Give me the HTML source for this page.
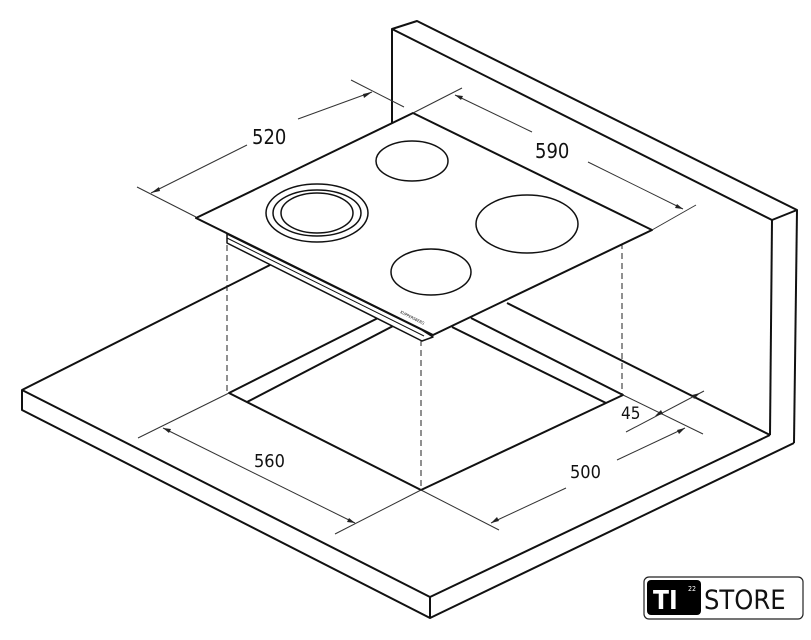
<!DOCTYPE html>
<html><head><meta charset="utf-8"><style>
html,body{margin:0;padding:0;background:#fff;width:811px;height:640px;overflow:hidden}
svg{display:block}
text{font-family:"DejaVu Sans Condensed","Liberation Sans",sans-serif;fill:#111}
</style></head><body>
<svg width="811" height="640" viewBox="0 0 811 640" xmlns="http://www.w3.org/2000/svg">
<g fill="none" stroke="#111" stroke-width="2" stroke-linejoin="round">
<polygon points="392,29 417,21 797,210 772,220" fill="#fff"/>
<line x1="392" y1="29" x2="392" y2="125"/>
<line x1="772" y1="220" x2="770" y2="435"/>
<line x1="797" y1="210" x2="794" y2="443"/>
<polyline points="270,265 22,390 22,410 430,618 794,443"/>
<polyline points="22,390 430,597 770,435"/>
<line x1="430" y1="597" x2="430" y2="618"/>
<line x1="507" y1="303" x2="770" y2="435"/>
<polyline points="380,317 229,393 421,490 623,395 471,318"/>
<line x1="247" y1="402" x2="395" y2="325"/>
<line x1="606" y1="403" x2="452" y2="327"/>
</g>
<g stroke="#222" stroke-width="1" stroke-dasharray="6,4">
<line x1="227" y1="245" x2="227" y2="393"/>
<line x1="622" y1="243" x2="622" y2="395"/>
<line x1="421" y1="340" x2="421" y2="490"/>
</g>
<g fill="none" stroke="#111" stroke-width="2" stroke-linejoin="round">
<polygon points="227,234 422,330 433,337 422,341 227,243" fill="#fff" stroke-width="1.5"/>
<line x1="227" y1="238" x2="424" y2="336" stroke-width="1"/>
<polygon points="196,218 413,113 652,230 433,335" fill="#fff"/>
<ellipse cx="412" cy="161" rx="36" ry="20" stroke-width="1.5"/>
<ellipse cx="317" cy="213" rx="51" ry="29" stroke-width="1.5"/>
<ellipse cx="317" cy="213" rx="44" ry="23" stroke-width="1.5"/>
<ellipse cx="317" cy="213" rx="36" ry="20" stroke-width="1.5"/>
<ellipse cx="527" cy="224" rx="51" ry="29" stroke-width="1.5"/>
<ellipse cx="431" cy="272" rx="40" ry="23" stroke-width="1.5"/>
</g>
<text x="0" y="0" font-size="4" transform="translate(400,313) rotate(27)">KUPPERSBERG</text>
<g stroke="#333" stroke-width="1" fill="none">
<line x1="137" y1="187" x2="196" y2="217"/>
<line x1="351" y1="80" x2="404" y2="107"/>
<line x1="151" y1="193" x2="247" y2="145"/>
<line x1="298" y1="119" x2="372" y2="92"/>
<line x1="462" y1="88" x2="413" y2="113"/>
<line x1="696" y1="205" x2="652" y2="230"/>
<line x1="455" y1="95" x2="532" y2="132"/>
<line x1="588" y1="162" x2="683" y2="209"/>
<line x1="138" y1="438" x2="229" y2="393"/>
<line x1="335" y1="534" x2="421" y2="490"/>
<line x1="163" y1="428" x2="355" y2="523"/>
<line x1="421" y1="490" x2="499" y2="530"/>
<line x1="623" y1="395" x2="703" y2="434"/>
<line x1="491" y1="523" x2="566" y2="488"/>
<line x1="617" y1="460" x2="685" y2="428"/>
<line x1="626" y1="432" x2="704" y2="391"/>
</g>
<g fill="#222">
<polygon points="151,193 159,187 160,191"/>
<polygon points="372,92 364,98 363,94"/>
<polygon points="455,95 463,96 461,100"/>
<polygon points="683,209 675,208 677,204"/>
<polygon points="163,428 171,429 169,433"/>
<polygon points="355,523 347,522 349,518"/>
<polygon points="491,523 497,517 499,521"/>
<polygon points="685,428 679,434 677,430"/>
<polygon points="655,416 661,410 663,414"/>
<polygon points="700,393 694,399 692,395"/>
</g>
<text x="252" y="144" font-size="20">520</text>
<text x="535" y="158" font-size="20">590</text>
<text x="254" y="467" font-size="18">560</text>
<text x="570" y="478" font-size="18">500</text>
<text x="621" y="419" font-size="17">45</text>
<rect x="644" y="577" width="159" height="42" rx="5" fill="#fff" stroke="#222" stroke-width="1.2"/>
<rect x="647" y="580" width="54" height="35" rx="4" fill="#000"/>
<text x="653" y="609" font-size="26" font-weight="bold" style="fill:#fff">TI</text>
<text x="688" y="591" font-size="7" style="fill:#fff">22</text>
<text x="704" y="609" font-size="27">STORE</text>
</svg>
</body></html>
